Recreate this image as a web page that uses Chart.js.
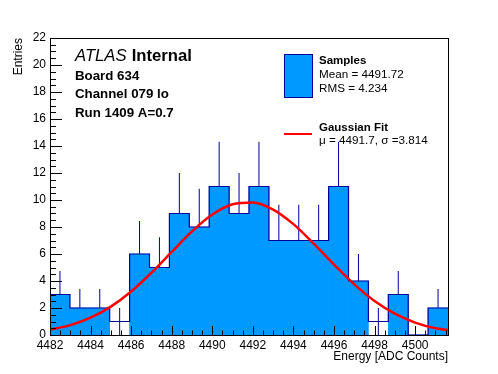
<!DOCTYPE html>
<html>
<head>
<meta charset="utf-8">
<script src="https://cdn.jsdelivr.net/npm/chart.js@4.4.0/dist/chart.umd.min.js"></script>
<style>
  html, body { margin: 0; padding: 0; background: #fff; }
  #wrap { width: 498px; height: 374px; position: relative; }
</style>
</head>
<body>
<div id="wrap"><canvas id="histChart"></canvas></div>
<script>
// histogram: 20 bins starting at 4482
const binStart = 4482;
const binWidth = 0.981;
const counts = [3, 2, 2, 1, 6, 5, 9, 8, 11, 9, 11, 7, 7, 7, 11, 4, 1, 3, 0, 2];

// gaussian fit curve
const fitX = [4482, 4483, 4484, 4485, 4486, 4487, 4488, 4489, 4490, 4491, 4492,
              4493, 4494, 4495, 4496, 4497, 4498, 4499, 4500, 4501, 4501.6];
const fitY = [0.39, 0.73, 1.28, 2.10, 3.22, 4.61, 6.15, 7.67, 8.92, 9.69, 9.82,
              9.29, 8.21, 6.77, 5.22, 3.75, 2.52, 1.58, 0.92, 0.50, 0.37];

const xTickLabels = [4482, 4484, 4486, 4488, 4490, 4492, 4494, 4496, 4498, 4500];
const yTickLabels = [0, 2, 4, 6, 8, 10, 12, 14, 16, 18, 20, 22];

const FONT = '"Liberation Sans", Arial, Helvetica, sans-serif';
const FILL_BLUE = '#0099ff';
const LINE_BLUE = '#000099';

const xMin = binStart;
const xMax = binStart + counts.length * binWidth;

const centers = counts.map((c, i) => binStart + (i + 0.5) * binWidth);
const fillData = counts.map((c, i) => ({ x: centers[i], y: c }));
const errData = counts.map((c, i) => ({
    x: centers[i],
    y: c > 0 ? [c - Math.sqrt(c), c + Math.sqrt(c)] : null
}));
const outlineData = counts.map((c, i) => ({ x: binStart + i * binWidth, y: c }));
outlineData.push({ x: xMax, y: counts[counts.length - 1] });
const fitData = fitX.map((x, i) => ({ x: x, y: fitY[i] }));

// frame + inward ticks, ROOT style
const frameTicks = {
    id: 'frameTicks',
    afterDatasetsDraw(chart) {
        const { ctx, chartArea: a, scales: { x, y } } = chart;
        ctx.save();
        ctx.strokeStyle = '#000';
        ctx.lineWidth = 1;
        ctx.beginPath();
        for (let v = xMin; v <= xMax + 1e-6; v += 0.5) {
            const px = Math.round(x.getPixelForValue(v)) + 0.5;
            const len = (Math.abs((v - 4482) % 2) < 1e-6) ? 9 : 4.5;
            ctx.moveTo(px, a.bottom);
            ctx.lineTo(px, a.bottom - len);
        }
        for (let v = 0; v <= 22 + 1e-6; v += 0.5) {
            const py = Math.round(y.getPixelForValue(v)) + 0.5;
            const len = (Math.abs(v % 2) < 1e-6) ? 12 : 6;
            ctx.moveTo(a.left, py);
            ctx.lineTo(a.left + len, py);
        }
        ctx.stroke();
        ctx.strokeRect(Math.round(a.left) + 0.5, Math.round(a.top) + 0.5,
                       Math.round(a.right - a.left), Math.round(a.bottom - a.top));
        ctx.restore();
    },
    afterDraw(chart) {
        const ctx = chart.ctx;
        ctx.save();
        ctx.fillStyle = '#000';
        ctx.textBaseline = 'middle';
        ctx.textAlign = 'left';

        ctx.font = 'italic 16.7px ' + FONT;
        ctx.fillText('ATLAS', 75, 56.5);
        const w = ctx.measureText('ATLAS').width;
        ctx.font = 'bold 16.7px ' + FONT;
        ctx.fillText('Internal', 75 + w + 5, 56.5);

        ctx.font = 'bold 13.3px ' + FONT;
        ctx.fillText('Board 634', 75, 76);
        ctx.fillText('Channel 079 lo', 75, 94.5);
        ctx.fillText('Run 1409 A=0.7', 75, 113);

        // legend
        ctx.fillStyle = FILL_BLUE;
        ctx.fillRect(284, 54, 29, 43);
        ctx.strokeStyle = LINE_BLUE;
        ctx.lineWidth = 1;
        ctx.strokeRect(284.5, 54.5, 28, 43);

        ctx.fillStyle = '#000';
        ctx.font = 'bold 11.5px ' + FONT;
        ctx.fillText('Samples', 319, 61);
        ctx.font = '11.7px ' + FONT;
        ctx.fillText('Mean = 4491.72', 319, 75);
        ctx.fillText('RMS = 4.234', 319, 89);

        ctx.strokeStyle = '#ff0000';
        ctx.lineWidth = 2;
        ctx.beginPath();
        ctx.moveTo(284, 134);
        ctx.lineTo(312, 134);
        ctx.stroke();

        ctx.font = 'bold 11.5px ' + FONT;
        ctx.fillText('Gaussian Fit', 319, 128);
        ctx.font = '11.7px ' + FONT;
        ctx.fillText('\u03bc = 4491.7, \u03c3 =3.814', 319, 141);
        ctx.restore();
    }
};

Chart.defaults.font.family = FONT;
Chart.defaults.color = '#000';

new Chart(document.getElementById('histChart'), {
    type: 'bar',
    data: {
        datasets: [
            {
                type: 'line',
                label: 'Gaussian Fit',
                data: fitData,
                borderColor: '#ff0000',
                borderWidth: 2.5,
                pointRadius: 0,
                cubicInterpolationMode: 'monotone',
                fill: false,
                order: 0
            },
            {
                type: 'line',
                label: 'outline',
                data: outlineData,
                borderColor: LINE_BLUE,
                borderWidth: 1.2,
                pointRadius: 0,
                stepped: 'before',
                fill: false,
                order: 1
            },
            {
                label: 'Samples',
                data: fillData,
                backgroundColor: counts.map(c => c === 1 ? 'rgba(255,255,255,0)' : FILL_BLUE),
                borderWidth: 0,
                barPercentage: 1,
                categoryPercentage: 1,
                grouped: false,
                order: 2
            },
            {
                label: 'errors',
                data: errData,
                backgroundColor: LINE_BLUE,
                borderWidth: 0,
                barThickness: 1,
                inflateAmount: 0,
                grouped: false,
                order: 3
            }
        ]
    },
    options: {
        responsive: true,
        maintainAspectRatio: false,
        animation: false,
        layout: { padding: { top: 38, right: 50, left: 0, bottom: 0 } },
        plugins: { legend: { display: false }, tooltip: { enabled: false } },
        scales: {
            x: {
                type: 'linear',
                offset: false,
                min: xMin,
                max: xMax,
                grid: { display: false, drawTicks: false, offset: false },
                border: { display: false },
                afterBuildTicks: s => { s.ticks = xTickLabels.map(v => ({ value: v })); },
                ticks: {
                    autoSkip: false,
                    maxRotation: 0,
                    padding: 3,
                    font: { size: 12 },
                    callback: v => String(v)
                },
                title: {
                    display: true,
                    text: 'Energy [ADC Counts]',
                    align: 'end',
                    font: { size: 12 },
                    padding: { top: 0, bottom: 10 }
                },
                afterFit: s => { s.height = 39; }
            },
            y: {
                min: 0,
                max: 22,
                grid: { display: false, drawTicks: false },
                border: { display: false },
                afterBuildTicks: s => { s.ticks = yTickLabels.map(v => ({ value: v })); },
                ticks: {
                    autoSkip: false,
                    padding: 4,
                    font: { size: 12 },
                    callback: v => String(v)
                },
                title: {
                    display: true,
                    text: 'Entries',
                    align: 'end',
                    font: { size: 12 },
                    padding: { top: 11, bottom: 0 }
                },
                afterFit: s => { s.width = 50; }
            }
        }
    },
    plugins: [frameTicks]
});
</script>
</body>
</html>
